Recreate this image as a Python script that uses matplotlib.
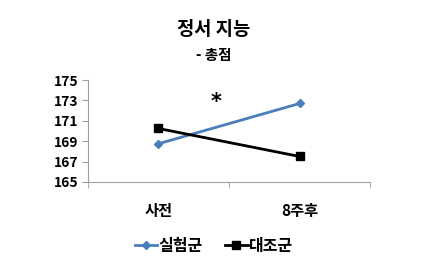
import matplotlib
matplotlib.use("Agg")
import matplotlib.pyplot as plt

plt.rcParams['font.family'] = ['Noto Sans CJK KR', 'DejaVu Sans']

categories = ['사전', '8주후']
exp_values = [168.75, 172.7]
ctrl_values = [170.25, 167.5]
series_names = ['실험군', '대조군']
yticks = [165, 167, 169, 171, 173, 175]

fig = plt.figure(figsize=(4.37, 2.66), dpi=100)
ax = fig.add_axes([0.201, 0.316, 0.646, 0.383])

x = list(range(len(categories)))
ax.plot(x, exp_values, color='#4a7ebb', lw=2, marker='D', ms=4.5, label=series_names[0])
ax.plot(x, ctrl_values, color='black', lw=2, marker='s', ms=6, label=series_names[1])

ax.set_xlim(-0.5, 1.5)
ax.set_ylim(165, 175)
ax.set_yticks(yticks)
ax.set_yticklabels([str(v) for v in yticks], fontsize=10, fontweight='bold')
ax.set_xticks(x)
ax.set_xticklabels(categories, fontsize=11, fontweight='bold')
ax.set_xticks([-0.5, 0.5, 1.5], minor=True)
ax.tick_params(axis='x', which='major', length=0, pad=15)
ax.tick_params(axis='x', which='minor', length=4, color='#a0a0a0', direction='out')
ax.tick_params(axis='y', length=4, color='#a0a0a0', direction='out', pad=3)

for s in ['top', 'right']:
    ax.spines[s].set_visible(False)
for s in ['left', 'bottom']:
    ax.spines[s].set_color('#a0a0a0')

ax.text(0.41, 172.8, '*', fontsize=15, fontweight='bold', ha='center', va='center',
        family=['DejaVu Sans'])

fig.text(0.488, 0.89, '정서 지능', fontsize=13.5, fontweight='bold', ha='center', va='center')
fig.text(0.488, 0.793, '- 총점', fontsize=10.5, fontweight='bold', ha='center', va='center')

fig.legend(loc='center', bbox_to_anchor=(0.49, 0.075), ncol=2, frameon=False,
           prop={'weight': 'bold', 'size': 11.5}, handlelength=1.4, handletextpad=0.1,
           columnspacing=1.4)

fig.savefig('out.png', dpi=100)
